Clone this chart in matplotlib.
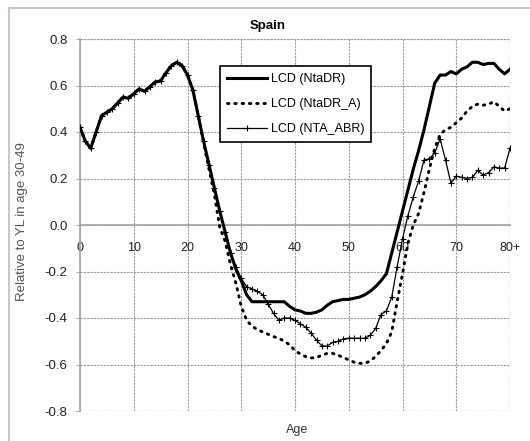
import numpy as np
import matplotlib
matplotlib.use("Agg")
import matplotlib.pyplot as plt
from matplotlib.lines import Line2D

plt.rcParams['font.family'] = ['Liberation Sans', 'DejaVu Sans']

# =================== Data ===================

ages = np.arange(0, 81)

# ages 0-22: the three series coincide
young = [0.42, 0.36, 0.33, 0.40, 0.47, 0.485, 0.50, 0.525, 0.55, 0.545,
         0.565, 0.585, 0.575, 0.595, 0.615, 0.62, 0.655, 0.685, 0.70, 0.685,
         0.645, 0.58, 0.47]

# ages 23-80
ntadr_tail = [0.36, 0.26, 0.16, 0.06, -0.03, -0.12, -0.19, -0.24, -0.30, -0.33,
              -0.33, -0.33, -0.33, -0.33, -0.33, -0.33, -0.35, -0.365, -0.37, -0.38,
              -0.38, -0.375, -0.365, -0.345, -0.33, -0.325, -0.32, -0.32, -0.315, -0.31,
              -0.30, -0.285, -0.265, -0.24, -0.21, -0.12, -0.03, 0.06, 0.15, 0.24,
              0.32, 0.41, 0.51, 0.61, 0.645, 0.645, 0.66, 0.65, 0.67, 0.68,
              0.70, 0.70, 0.69, 0.695, 0.695, 0.67, 0.65, 0.67]

ntadr_a_tail = [0.35, 0.24, 0.13, -0.01, -0.07, -0.17, -0.25, -0.35, -0.41, -0.435,
                -0.45, -0.46, -0.47, -0.48, -0.487, -0.50, -0.515, -0.54, -0.555, -0.566,
                -0.572, -0.57, -0.56, -0.552, -0.552, -0.56, -0.57, -0.58, -0.59, -0.595,
                -0.595, -0.585, -0.565, -0.54, -0.51, -0.46, -0.33, -0.21, -0.08, 0.0,
                0.05, 0.14, 0.24, 0.33, 0.39, 0.41, 0.42, 0.44, 0.46, 0.49,
                0.51, 0.52, 0.515, 0.52, 0.53, 0.51, 0.49, 0.50]

nta_abr_tail = [0.36, 0.26, 0.16, 0.06, -0.03, -0.12, -0.18, -0.23, -0.265, -0.275,
                -0.285, -0.30, -0.34, -0.38, -0.41, -0.40, -0.40, -0.41, -0.425, -0.44,
                -0.465, -0.495, -0.52, -0.52, -0.505, -0.50, -0.49, -0.487, -0.487, -0.487,
                -0.487, -0.475, -0.445, -0.385, -0.37, -0.31, -0.18, -0.06, 0.04, 0.12,
                0.19, 0.28, 0.285, 0.31, 0.37, 0.28, 0.18, 0.21, 0.205, 0.20,
                0.205, 0.235, 0.215, 0.225, 0.25, 0.245, 0.245, 0.33]

ntadr = np.array(young + ntadr_tail)
ntadr_a = np.array(young + ntadr_a_tail)
nta_abr = np.array(young + nta_abr_tail)

x_ticks = [0, 10, 20, 30, 40, 50, 60, 70, 80]
x_labels = ["0", "10", "20", "30", "40", "50", "60", "70", "80+"]
y_ticks = [-0.8, -0.6, -0.4, -0.2, 0.0, 0.2, 0.4, 0.6, 0.8]

# =================== Plot ===================

W, H = 530, 441
fig = plt.figure(figsize=(W / 100, H / 100), dpi=100)
ax = fig.add_axes([80 / W, 1 - 411 / H, 430 / W, 372 / H])

grid_kw = dict(color='#9a9a9a', linewidth=0.8, linestyle=(0, (2, 1)))

ax.plot(ages, ntadr, color='black', linewidth=2.2, label="LCD (NtaDR)", zorder=3)
ax.plot(ages, ntadr_a, color='black', linewidth=2.1, linestyle=(0, (0.5, 2.0)),
        dash_capstyle='round', label="LCD (NtaDR_A)", zorder=3)
ax.plot(ages, nta_abr, color='black', linewidth=0.9, marker='+', markersize=5,
        markeredgewidth=0.8, label="LCD (NTA_ABR)", zorder=4)

ax.set_xlim(0, 80)
ax.set_ylim(-0.8, 0.8)
ax.set_xticks(x_ticks)
ax.set_xticklabels(x_labels)
ax.set_yticks(y_ticks)
ax.set_yticklabels([f"{v:.1f}" for v in y_ticks])
ax.grid(True, **grid_kw)
ax.set_axisbelow(True)

for s in ['top', 'right']:
    ax.spines[s].set_visible(False)
ax.spines['bottom'].set_position(('data', 0))
for s in ['left', 'bottom']:
    ax.spines[s].set_color('#a8a8a8')
    ax.spines[s].set_linewidth(1.3)

# dashed lines at the outer frame of the plot area
ax.axhline(0.8, **grid_kw)
ax.axhline(-0.8, **grid_kw)
ax.axvline(80, **grid_kw)

ax.tick_params(axis='x', length=0, pad=12, labelsize=9, labelcolor='#222222')
ax.tick_params(axis='y', length=3, color='#a8a8a8', pad=6, labelsize=9.5,
               labelcolor='#222222')

fig.text(268 / W, 1 - 26 / H, "Spain", fontsize=9.5, fontweight='bold',
         ha='center', va='center')
fig.text(22 / W, 1 - 222 / H, "Relative to YL in age 30-49", fontsize=9.5,
         rotation=90, ha='center', va='center', color='#555555')
fig.text(297 / W, 1 - 430 / H, "Age", fontsize=9, ha='center', va='center',
         color='#333333')

leg = ax.legend(loc='upper left', bbox_to_anchor=(220 / W, 1 - 66 / H),
                bbox_transform=fig.transFigure, borderaxespad=0, fancybox=False,
                framealpha=1, edgecolor='black', fontsize=9, handlelength=3.2,
                handletextpad=0.3, labelspacing=1.05, borderpad=0.55)
leg.get_frame().set_linewidth(1.2)

# outer chart border (left and top edges only are visible)
fig.add_artist(Line2D([9 / W, 9 / W], [0, 1 - 8 / H], transform=fig.transFigure,
                      color='#c8c8c8', linewidth=1.5))
fig.add_artist(Line2D([9 / W, 1], [1 - 8 / H, 1 - 8 / H], transform=fig.transFigure,
                      color='#c8c8c8', linewidth=1.5))

fig.savefig("out.png", dpi=100)
